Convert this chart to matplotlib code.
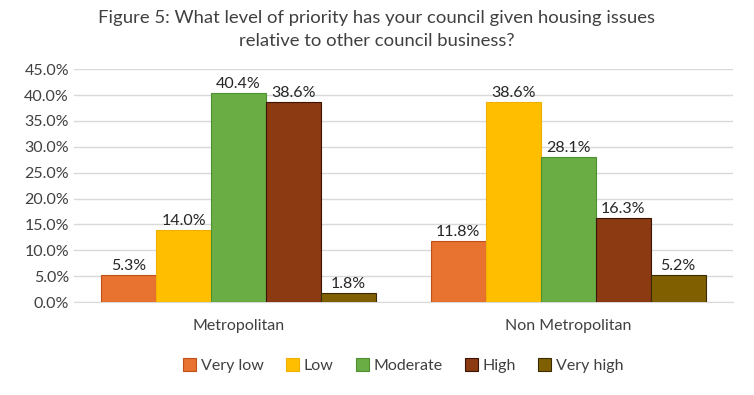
import numpy as np
import matplotlib.pyplot as plt
from matplotlib.ticker import PercentFormatter

plt.rcParams['font.family'] = ['Lato', 'DejaVu Sans']

groups = ['Metropolitan', 'Non Metropolitan']
levels = ['Very low', 'Low', 'Moderate', 'High', 'Very high']
values = {
    'Very low': [5.3, 11.8],
    'Low': [14.0, 38.6],
    'Moderate': [40.4, 28.1],
    'High': [38.6, 16.3],
    'Very high': [1.8, 5.2],
}
colors = ['#E8722F', '#FFBF00', '#6AAD45', '#8B3A12', '#7F5F00']
edges = ['#C0501A', '#F0B000', '#4E8F30', '#3A1505', '#3A2A00']

fig = plt.figure(figsize=(7.54, 3.95), dpi=100)
ax = fig.add_axes([0.098, 0.235, 0.874, 0.59])

x = np.arange(len(groups))
w = 0.167
for i, lvl in enumerate(levels):
    pos = x + (i - 2) * w
    bars = ax.bar(pos, values[lvl], w, color=colors[i], edgecolor=edges[i],
                  linewidth=0.8, label=lvl, zorder=3)
    for b, v in zip(bars, values[lvl]):
        ax.text(b.get_x() + b.get_width() / 2, v + 0.4, f'{v:.1f}%',
                ha='center', va='bottom', fontsize=11.5, color='#262626')

ax.set_xlim(-0.5, 1.5)
ax.set_ylim(0, 45)
ax.set_yticks(np.arange(0, 46, 5))
ax.yaxis.set_major_formatter(PercentFormatter(decimals=1))
ax.set_xticks(x)
ax.set_xticklabels(groups)
ax.tick_params(axis='both', length=0, labelsize=11.5, colors='#404040')
ax.tick_params(axis='x', pad=12)
ax.grid(axis='y', color='#D9D9D9', linewidth=1, zorder=0)
for s in ['top', 'right', 'left']:
    ax.spines[s].set_visible(False)
ax.spines['bottom'].set_color('#D9D9D9')

fig.suptitle('Figure 5: What level of priority has your council given housing issues\nrelative to other council business?',
             y=0.975, fontsize=13.3, color='#404040', linespacing=1.55)

ax.legend(loc='upper center', bbox_to_anchor=(0.5, -0.18), ncol=5, frameon=False,
          fontsize=11.5, handlelength=0.8, handleheight=0.8, columnspacing=1.4,
          handletextpad=0.3, labelcolor='#404040')

fig.savefig('out.png', dpi=100)
